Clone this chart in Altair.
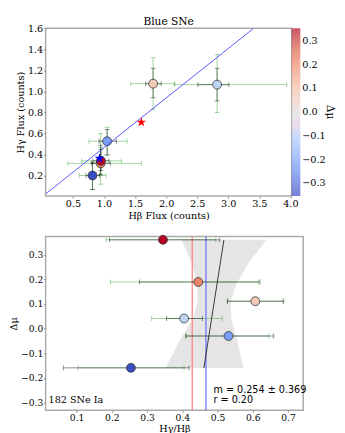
import altair as alt
import pandas as pd

# ---------------- top panel values ----------------
top_dmu = [-0.16, 0.19, 0.36, -0.03, 0.11, 0.04]
hbeta = [0.815, 0.945, 0.950, 1.05, 1.79, 2.82]
hgamma = [0.203, 0.318, 0.342, 0.528, 1.074, 1.065]
hb_green_lo = [0.60, 0.42, 0.64, 0.76, 1.43, 2.13]
hb_green_hi = [1.03, 1.60, 1.28, 1.37, 2.14, 3.94]
hb_black_lo = [0.71, 0.80, 0.82, 0.92, 1.67, 2.51]
hb_black_hi = [0.93, 1.10, 1.08, 1.20, 1.92, 3.01]
hg_green_lo = [0.07, 0.12, 0.21, 0.39, 0.83, 0.80]
hg_green_hi = [0.33, 0.60, 0.47, 0.66, 1.32, 1.35]
hg_black_lo = [0.07, 0.21, 0.25, 0.40, 0.94, 0.91]
hg_black_hi = [0.32, 0.49, 0.45, 0.64, 1.22, 1.22]
star_names = ["red", "blue"]
star_hbeta = [1.60, 0.927]
star_hgamma = [0.708, 0.365]
ratio_line_hbeta = [0.06, 3.41]
ratio_line_hgamma = [0.028, 1.6]
top_x_ticks = [0.5, 1.0, 1.5, 2.0, 2.5, 3.0, 3.5, 4.0]
top_y_ticks = [0.2, 0.4, 0.6, 0.8, 1.0, 1.2, 1.4, 1.6]
cbar_ticks = [-0.3, -0.2, -0.1, 0.0, 0.1, 0.2, 0.3]
cbar_title = "Δμ"
top_title = "Blue SNe"

# ---------------- bottom panel values ----------------
ratio = [0.345, 0.445, 0.607, 0.405, 0.531, 0.254]
dmu = [0.36, 0.189, 0.111, 0.041, -0.03, -0.159]
r_green_lo = [0.183, 0.196, 0.528, 0.313, 0.41, 0.104]
r_green_hi = [0.495, 0.615, 0.688, 0.513, 0.645, 0.405]
r_black_lo = [0.193, 0.278, 0.528, 0.355, 0.41, 0.063]
r_black_hi = [0.506, 0.620, 0.686, 0.457, 0.658, 0.419]
band_dmu = [-0.16, -0.05, 0.04, 0.11, 0.18, 0.27, 0.36]
band_lo = [0.352, 0.392, 0.430, 0.444, 0.443, 0.426, 0.397]
band_hi = [0.573, 0.556, 0.539, 0.537, 0.553, 0.590, 0.639]
fit_ratio = [0.461, 0.518]
fit_dmu = [-0.16, 0.36]
vline_names = ["red", "blue"]
vline_ratio = [0.428, 0.467]
bot_x_ticks = [0.1, 0.2, 0.3, 0.4, 0.5, 0.6, 0.7]
bot_y_ticks = [-0.3, -0.2, -0.1, 0.0, 0.1, 0.2, 0.3]
ann_fit = ["m =  0.254 ± 0.369", "r = 0.20"]
ann_n = "182 SNe Ia"

# point colours follow the coolwarm map at the points' Δμ levels
point_levels = [-0.16, -0.03, 0.04, 0.11, 0.19, 0.36]
point_colors = ["#3b4cc0", "#7b9ef8", "#c0d4f5", "#f2cab6", "#ee8568", "#b40426"]
COOLWARM = ["#3b4cc0", "#6282ea", "#8db0fe", "#b8d0f9", "#dddcdc",
            "#f5c4ac", "#f49a7b", "#de604d", "#b40426"]
GREEN = "#2ca02c"
BLACK = "#000000"
OP = 0.45
SERIF = "DejaVu Serif, serif"
SANS = "DejaVu Sans, sans-serif"

TOP_W, TOP_H = 255, 174
BOT_W, BOT_H = 267, 180

top = pd.DataFrame(dict(hb=hbeta, hg=hgamma, dmu=top_dmu,
                        gxl=hb_green_lo, gxh=hb_green_hi,
                        bxl=hb_black_lo, bxh=hb_black_hi,
                        gyl=hg_green_lo, gyh=hg_green_hi,
                        byl=hg_black_lo, byh=hg_black_hi))
stars = pd.DataFrame(dict(name=star_names, hb=star_hbeta, hg=star_hgamma))
rline = pd.DataFrame(dict(hb=ratio_line_hbeta, hg=ratio_line_hgamma))

bot = pd.DataFrame(dict(r=ratio, d=dmu, gxl=r_green_lo, gxh=r_green_hi,
                        bxl=r_black_lo, bxh=r_black_hi))
band = pd.DataFrame(dict(d=band_dmu, lo=band_lo, hi=band_hi))
fit = pd.DataFrame(dict(r=fit_ratio, d=fit_dmu))
vl = pd.DataFrame(dict(name=vline_names, r=vline_ratio))

fill_scale = alt.Scale(domain=point_levels, range=point_colors)

tx_scale = alt.Scale(domain=[0.06, 4.02], nice=False, zero=False)
ty_scale = alt.Scale(domain=[0.008, 1.6], nice=False, zero=False)
tx_axis = alt.Axis(values=top_x_ticks, format=".1f")
ty_axis = alt.Axis(values=top_y_ticks, format=".1f")


def tx(f):
    return alt.X(f"{f}:Q", scale=tx_scale, axis=tx_axis, title="Hβ Flux (counts)")


def ty(f):
    return alt.Y(f"{f}:Q", scale=ty_scale, axis=ty_axis, title="Hγ Flux (counts)")


bx_scale = alt.Scale(domain=[0.012, 0.743], nice=False, zero=False)
by_scale = alt.Scale(domain=[-0.331, 0.373], nice=False, zero=False)
bx_axis = alt.Axis(values=bot_x_ticks, format=".1f", labelFontSize=9.5)
by_axis = alt.Axis(values=bot_y_ticks, format=".1f", labelFontSize=9.5)


def bx(f):
    return alt.X(f"{f}:Q", scale=bx_scale, axis=bx_axis, title="Hγ/Hβ")


def by(f):
    return alt.Y(f"{f}:Q", scale=by_scale, axis=by_axis, title="Δμ")


def hbar(df, lo, hi, yf, color, X, Y):
    rule = alt.Chart(df).mark_rule(color=color, opacity=OP, strokeWidth=1).encode(
        x=X(lo), x2=alt.X2(f"{hi}:Q"), y=Y(yf))
    caps = alt.Chart(df).transform_fold([lo, hi], as_=["k", "v"]).mark_tick(
        orient="vertical", size=5, thickness=1, color=color, opacity=OP).encode(
        x=X("v"), y=Y(yf))
    return [rule, caps]


def vbar(df, lo, hi, xf, color, X, Y):
    rule = alt.Chart(df).mark_rule(color=color, opacity=OP, strokeWidth=1).encode(
        y=Y(lo), y2=alt.Y2(f"{hi}:Q"), x=X(xf))
    caps = alt.Chart(df).transform_fold([lo, hi], as_=["k", "v"]).mark_tick(
        orient="horizontal", size=5, thickness=1, color=color, opacity=OP).encode(
        y=Y("v"), x=X(xf))
    return [rule, caps]


STAR = ("M0,-1L0.2245,-0.309L0.951,-0.309L0.363,0.118L0.588,0.809L0,0.382"
        "L-0.588,0.809L-0.363,0.118L-0.951,-0.309L-0.2245,-0.309Z")

top_layers = []
top_layers += hbar(top, "gxl", "gxh", "hg", GREEN, tx, ty)
top_layers += vbar(top, "gyl", "gyh", "hb", GREEN, tx, ty)
top_layers += hbar(top, "bxl", "bxh", "hg", BLACK, tx, ty)
top_layers += vbar(top, "byl", "byh", "hb", BLACK, tx, ty)
top_layers.append(
    alt.Chart(top).mark_circle(size=85, opacity=1, stroke="#333333", strokeWidth=0.8).encode(
        x=tx("hb"), y=ty("hg"),
        fill=alt.Fill("dmu:Q", scale=fill_scale, legend=None)))
top_layers.append(
    alt.Chart(rline).mark_line(color="#5555ff", strokeWidth=1, clip=True).encode(
        x=tx("hb"), y=ty("hg")))
for nm, col in [("red", "#ff0000"), ("blue", "#0000ff")]:
    top_layers.append(
        alt.Chart(stars).transform_filter(alt.datum.name == nm).mark_point(
            shape=STAR, filled=True, size=110, color=col, opacity=1).encode(
            x=tx("hb"), y=ty("hg")))
# colour bar (legend only)
top_layers.append(
    alt.Chart(top).transform_filter("false").mark_point().encode(
        x=tx("hb"), y=ty("hg"),
        color=alt.Color("dmu:Q",
                        scale=alt.Scale(domain=[-0.353, 0.354], range=COOLWARM),
                        legend=alt.Legend(type="gradient", orient="right", offset=0,
                                          title=None,
                                          gradientLength=TOP_H, gradientThickness=9,
                                          gradientStrokeWidth=0,
                                          values=cbar_ticks, format=".1f",
                                          labelFont=SERIF, labelFontSize=10,
                                          labelOffset=2, labelOverlap=False,
                                          padding=0))))
top_layers.append(
    alt.Chart(pd.DataFrame({"t": [cbar_title]})).mark_text(
        angle=90, align="center", baseline="middle", font=SERIF, fontSize=11).encode(
        x=alt.value(TOP_W + 40), y=alt.value(TOP_H / 2), text="t:N"))
top_layers.append(
    alt.Chart(pd.DataFrame({"t": [top_title]})).mark_text(
        align="center", baseline="alphabetic", font=SERIF, fontSize=11).encode(
        x=alt.value(TOP_W / 2), y=alt.value(-3), text="t:N"))

top_chart = alt.layer(*top_layers).properties(width=TOP_W, height=TOP_H)

bot_layers = []
bot_layers.append(
    alt.Chart(band).mark_area(orient="horizontal", color="#dcdcdc", opacity=0.75).encode(
        y=by("d"), x=bx("lo"), x2=alt.X2("hi:Q")))
for nm, col in [("red", "#ff8080"), ("blue", "#7070ff")]:
    bot_layers.append(
        alt.Chart(vl).transform_filter(alt.datum.name == nm).mark_rule(
            color=col, strokeWidth=1.3).encode(x=bx("r")))
bot_layers.append(
    alt.Chart(fit).mark_line(color="#333333", strokeWidth=1).encode(
        x=bx("r"), y=by("d"), order="d:Q"))
bot_layers += hbar(bot, "gxl", "gxh", "d", GREEN, bx, by)
bot_layers += hbar(bot, "bxl", "bxh", "d", BLACK, bx, by)
bot_layers.append(
    alt.Chart(bot).mark_circle(size=85, opacity=1, stroke="#333333", strokeWidth=0.8).encode(
        x=bx("r"), y=by("d"),
        fill=alt.Fill("d:Q", scale=fill_scale, legend=None)))
bot_layers.append(
    alt.Chart(pd.DataFrame({"t": [ann_fit[0]]})).mark_text(
        align="left", baseline="middle", font=SANS, fontSize=10).encode(
        x=alt.value(174), y=alt.value(159), text="t:N"))
bot_layers.append(
    alt.Chart(pd.DataFrame({"t": [ann_fit[1]]})).mark_text(
        align="left", baseline="middle", font=SANS, fontSize=10).encode(
        x=alt.value(174), y=alt.value(169), text="t:N"))
bot_layers.append(
    alt.Chart(pd.DataFrame({"t": [ann_n]})).mark_text(
        align="left", baseline="middle", font=SERIF, fontSize=10).encode(
        x=alt.value(3), y=alt.value(169), text="t:N"))

bot_chart = alt.layer(*bot_layers).properties(width=BOT_W, height=BOT_H)

chart = alt.vconcat(top_chart, bot_chart, spacing=12).resolve_legend(
    color="independent").properties(
    padding={"left": 0, "top": 0, "right": 0, "bottom": 0}).configure_view(
    stroke="#aaaaaa", strokeWidth=1.5).configure_axis(
    domain=False, grid=False, tickColor="#888888", tickSize=2, labelPadding=1,
    labelFont=SERIF, labelFontSize=10, labelColor="#000000",
    titleFont=SERIF, titleFontSize=10, titleFontWeight="normal", titleColor="#000000",
    titlePadding=2)

chart.save("out.html", embed_options={"renderer": "svg", "actions": False})
